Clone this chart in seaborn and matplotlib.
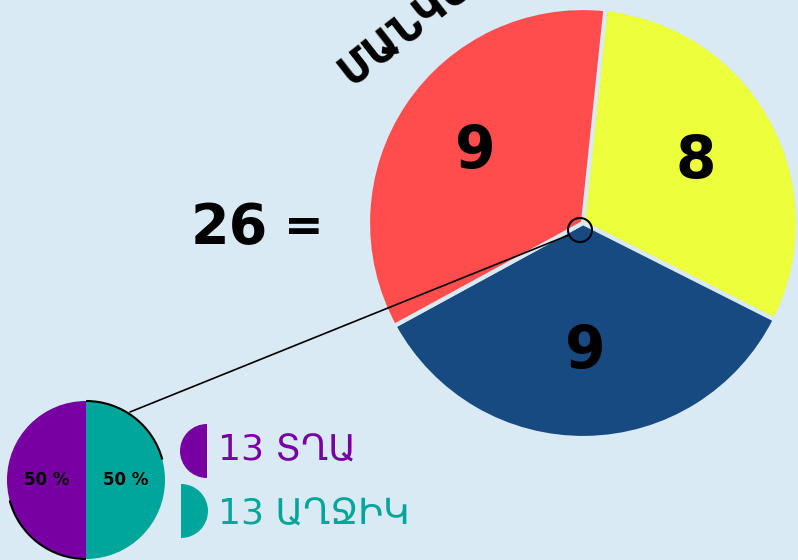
import numpy as np
import matplotlib.pyplot as plt
import seaborn as sns
from matplotlib.patches import Circle, Wedge, Arc

# big pie: groups of children
group_names = ['Խումբ 1', 'Խումբ 2', 'Խումբ 3']
group_counts = [8, 9, 9]
group_colors = ['#ecff3a', '#174a80', '#ff4d4d']

# small pie: boys / girls
gender_labels = ['ՏՂԱ', 'ԱՂՋԻԿ']
gender_counts = [13, 13]
gender_colors = ['#7800a3', '#00a699']

title_text = 'ՄԱՆԿԱՊԱՐՏԵԶ'

bg = '#d9eaf4'
sns.set_theme(style='white', rc={'figure.facecolor': bg, 'axes.facecolor': bg,
                                 'text.color': 'black'})
plt.rcParams['font.family'] = ['DejaVu Sans']

fig = plt.figure(figsize=(7.98, 5.6), dpi=100)
ax = fig.add_axes([0, 0, 1, 1])

bold = dict(fontweight='bold', color='black')

# Big pie
total = sum(group_counts)
ax.pie(group_counts, colors=group_colors, center=(583, 337), radius=215,
       startangle=84, counterclock=False,
       autopct=lambda p: f'{p * total / 100:.0f}', pctdistance=0.6,
       wedgeprops=dict(edgecolor=bg, linewidth=3),
       textprops=dict(fontsize=42, **bold))

# Small pie
ax.pie(gender_counts, colors=gender_colors, center=(86, 80), radius=79,
       startangle=90, counterclock=True,
       autopct=lambda p: f'{p:.0f} %', pctdistance=0.5,
       wedgeprops=dict(linewidth=0),
       textprops=dict(fontsize=12, **bold))

ax.set_xlim(0, 798)
ax.set_ylim(0, 560)
ax.set_aspect('equal')
ax.axis('off')

# outline arcs on small pie
ax.add_patch(Arc((86, 80), 158, 158, theta1=15, theta2=90, color='black', lw=1.5))
ax.add_patch(Arc((86, 80), 158, 158, theta1=195, theta2=270, color='black', lw=1.5))

# zoom connector
ax.add_patch(Circle((580, 330), 12, fill=False, ec='black', lw=1.5))
ax.plot([569, 130], [325, 148], color='black', lw=1.2)

# total
ax.text(229, 332, str(total), ha='center', va='center', fontsize=40, **bold)
ax.text(304, 332, '=', ha='center', va='center', fontsize=34, **bold)

# rotated title
ax.text(350, 474, title_text, rotation=38, rotation_mode='anchor',
        ha='left', va='baseline', fontsize=30, **bold)

# legend
ax.add_patch(Wedge((207, 109), 27, 90, 270, color=gender_colors[0], lw=0))
ax.add_patch(Wedge((181, 49), 27, -90, 90, color=gender_colors[1], lw=0))
for y, n, lab, c in zip([109, 45], gender_counts, gender_labels, gender_colors):
    ax.text(218, y, f'{n} {lab}', ha='left', va='center', fontsize=26, color=c)

fig.savefig('out.png', dpi=100, facecolor=bg)
